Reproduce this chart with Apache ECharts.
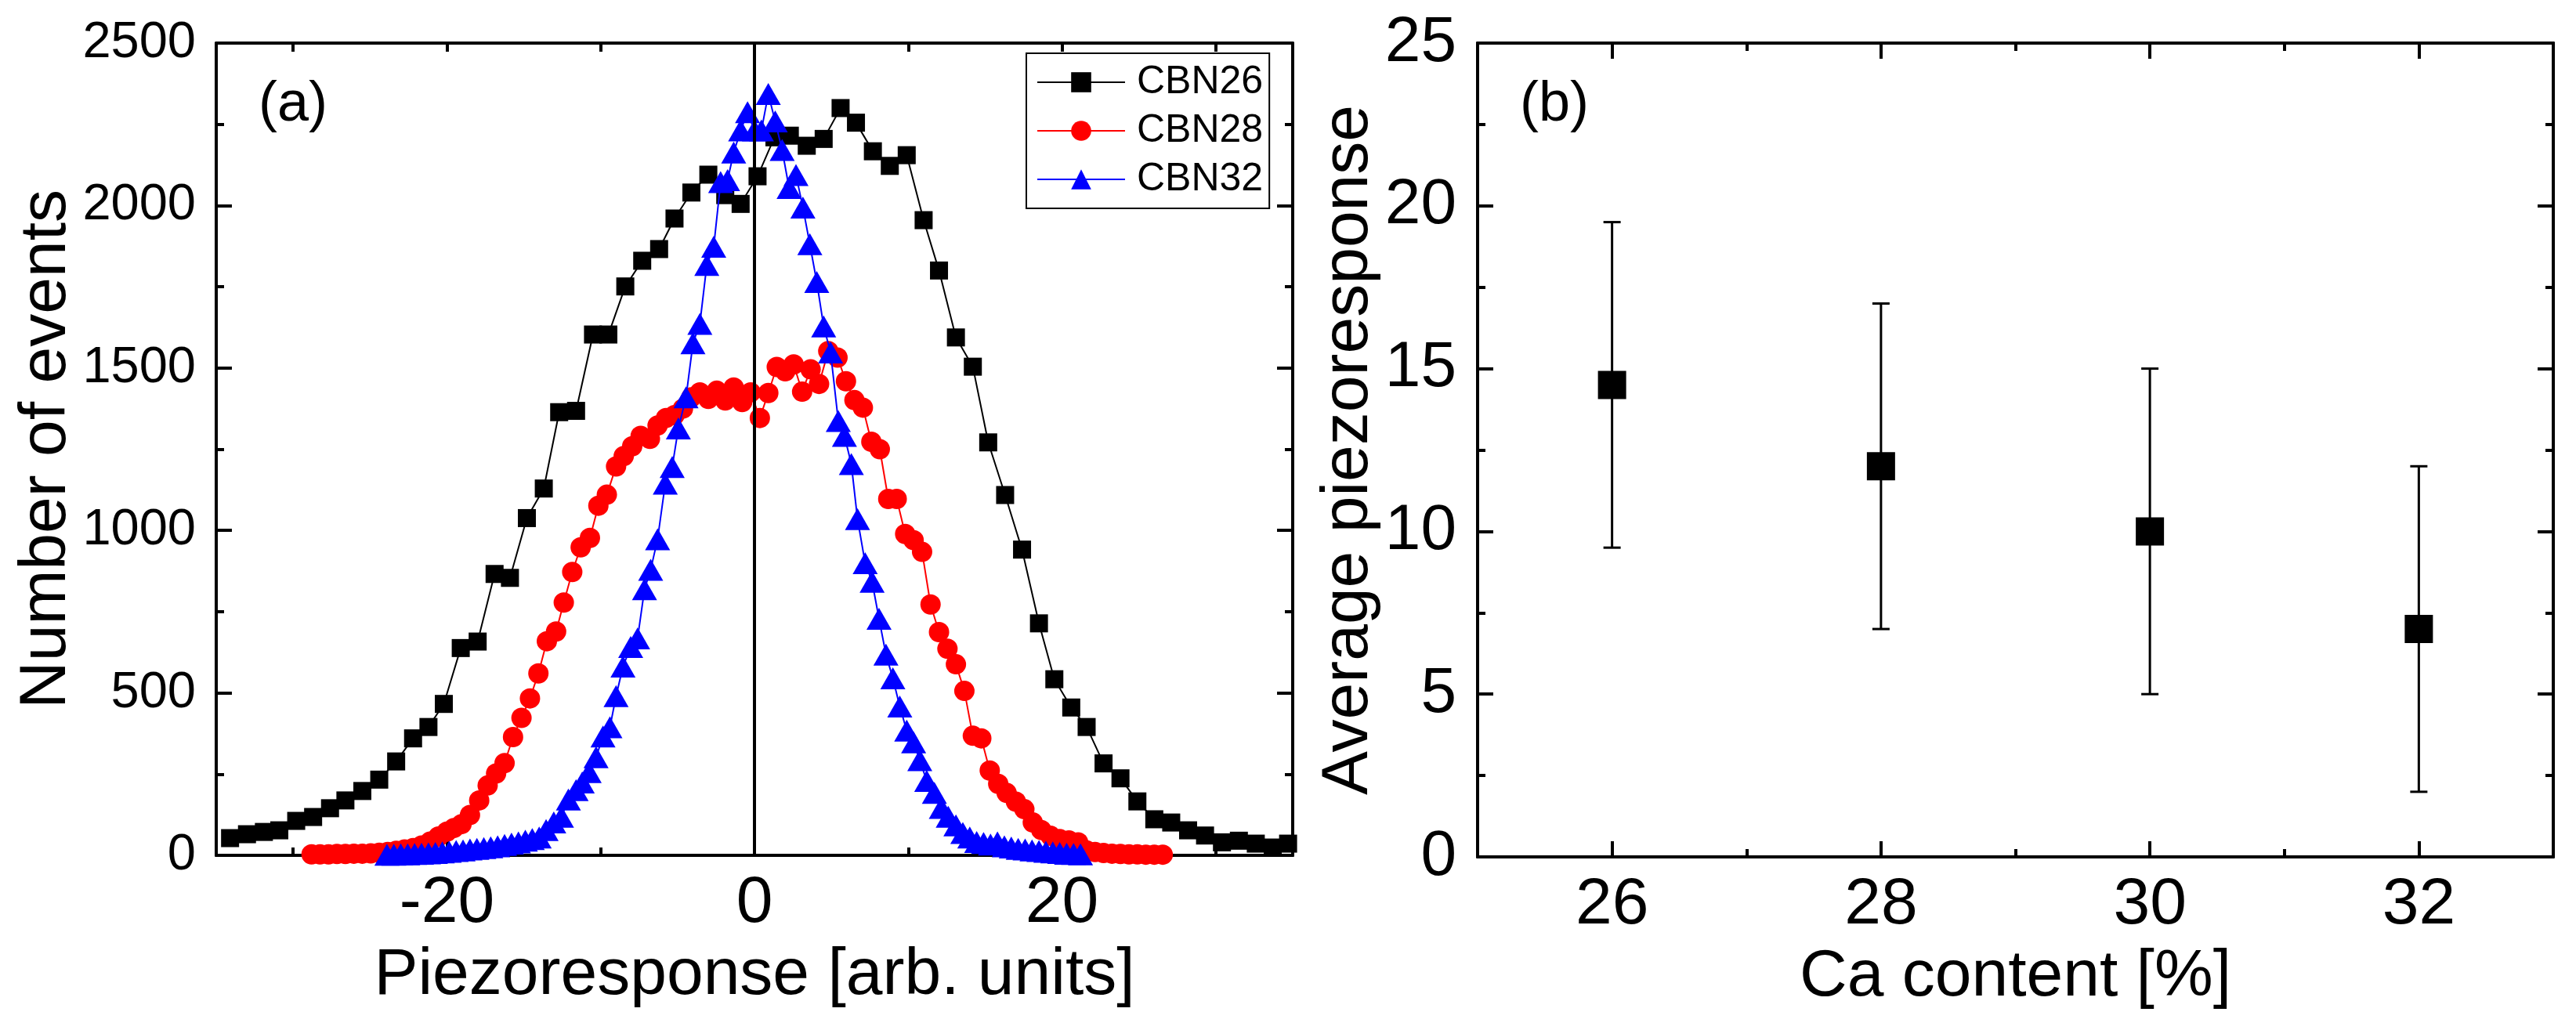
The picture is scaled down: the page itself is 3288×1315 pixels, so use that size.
<!DOCTYPE html>
<html>
<head>
<meta charset="utf-8">
<script src="https://cdn.jsdelivr.net/npm/echarts@6/dist/echarts.min.js"></script>
<style>
html, body { margin: 0; padding: 0; background: #fff; }
#chart { width: 3288px; height: 1315px; }
</style>
</head>
<body>
<div id="chart"></div>
<script>
// ---- panel (a): histograms of the piezoresponse ----
const cbn26X = [-34.1,-33.0,-31.9,-30.9,-29.8,-28.7,-27.6,-26.6,-25.5,-24.4,-23.3,-22.2,-21.2,-20.2,-19.1,-18.0,-16.9,-15.9,-14.8,-13.7,
                -12.7,-11.6,-10.5,-9.5,-8.4,-7.3,-6.2,-5.2,-4.1,-3.0,-1.9,-0.9,0.2,1.3,2.3,3.4,4.5,5.6,6.6,7.7,
                8.8,9.9,11.0,12.0,13.1,14.2,15.2,16.3,17.4,18.5,19.5,20.6,21.6,22.7,23.8,24.9,26.0,27.1,28.2,29.3,
                30.4,31.5,32.6,33.7,34.7];
const cbn26Y = [53,65,72,77,106,118,145,169,198,233,289,360,395,466,638,658,866,854,1038,1129,
                1364,1368,1603,1603,1751,1830,1866,1960,2040,2095,2032,2005,2090,2210,2215,2184,2205,2300,2255,2167,
                2122,2155,1955,1800,1594,1504,1271,1109,941,714,542,455,395,283,237,166,111,101,77,61,
                40,45,36,24,36];

const cbn28X = [-28.8,-28.25,-27.7,-27.15,-26.6,-26.05,-25.5,-24.95,-24.4,-23.85,-23.3,-22.75,-22.2,-21.65,-21.1,-20.55,-20.0,-19.55,-19.05,-18.5,
                -17.9,-17.35,-16.8,-16.25,-15.7,-15.15,-14.6,-14.05,-13.5,-12.9,-12.4,-11.85,-11.3,-10.7,-10.15,-9.6,-9.0,-8.5,-7.95,-7.4,
                -6.8,-6.3,-5.75,-5.2,-4.65,-4.1,-3.55,-3.0,-2.45,-1.9,-1.35,-0.8,-0.25,0.35,0.9,1.45,2.0,2.55,3.1,3.65,
                4.2,4.8,5.4,5.95,6.5,7.05,7.6,8.15,8.7,9.25,9.8,10.35,10.9,11.45,12.0,12.55,13.1,13.65,14.2,14.75,
                15.3,15.85,16.4,17.0,17.55,18.1,18.65,19.25,19.85,20.45,21.05,21.6,22.15,22.7,23.25,23.8,24.35,24.9,25.45,26.0,26.55];
const cbn28Y = [3,3,3,4,4,5,5,6,8,10,14,18,22,30,42,58,73,84,96,124,
                169,215,252,284,364,423,483,560,659,689,778,872,948,977,1076,1110,1197,1229,1259,1291,
                1282,1323,1346,1355,1375,1410,1425,1405,1430,1400,1440,1395,1425,1346,1423,1503,1490,1511,1427,1496,
                1451,1552,1532,1459,1401,1378,1273,1250,1097,1097,989,970,934,772,687,636,588,506,368,360,
                261,220,192,165,142,101,78,60,50,46,40,15,10,7,5,4,3,3,2,2,2];

const cbn32X = [-23.9,-23.45,-23.0,-22.55,-22.1,-21.65,-21.2,-20.75,-20.3,-19.85,-19.4,-18.95,-18.5,-18.05,-17.6,-17.15,-16.7,-16.25,-15.8,-15.35,
                -14.9,-14.45,-14.0,-13.55,-13.05,-12.55,-12.1,-11.6,-11.2,-10.75,-10.3,-9.85,-9.4,-9.0,-8.55,-8.05,-7.6,-7.15,-6.75,-6.3,
                -5.8,-5.35,-4.95,-4.45,-4.0,-3.55,-3.1,-2.65,-2.2,-1.75,-1.35,-0.9,-0.45,0.0,0.45,0.9,1.35,1.8,2.25,2.7,
                3.15,3.6,4.05,4.5,4.95,5.45,5.85,6.3,6.7,7.2,7.65,8.1,8.55,9.0,9.45,9.9,10.35,10.75,11.2,11.7,
                12.15,12.6,13.1,13.55,14.0,14.45,14.9,15.35,15.8,16.25,16.7,17.15,17.6,18.05,18.5,18.95,19.4,19.85,20.3,20.75,21.2];
const cbn32Y = [2,2,3,3,4,5,6,7,9,11,13,15,18,20,22,25,28,32,36,40,
                45,50,55,78,101,119,172,201,224,256,302,366,394,490,581,641,668,819,879,973,
                1144,1195,1314,1410,1576,1636,1817,1873,2072,2078,2163,2231,2287,2231,2231,2343,2259,2171,2054,2094,
                1994,1881,1765,1628,1548,1337,1291,1204,1035,899,842,728,618,545,458,384,348,293,229,192,
                146,119,92,69,55,41,38,33,40,28,24,20,18,15,13,11,9,7,5,4,3];

// ---- panel (b): average piezoresponse vs Ca content ----
const caContent = [26, 28, 30, 32];
const avgPiezo  = [14.5, 12, 10, 7];
const errLow    = [9.5, 7, 5, 2];
const errHigh   = [19.5, 17, 15, 12];

// tick labels
const ticksA = [-20, 0, 20];
const minorA = [-30, -10, 10, 30];
const topA   = [-30, -20, -10, 0, 10, 20, 30];
const ticksB = [26, 28, 30, 32];
const minorB = [27, 29, 31];

const FONT = 'Liberation Sans, Arial, sans-serif';
const AX   = { color: '#000', width: 4 };
const plain = v => String(v);

function pairs(xs, ys) { return xs.map((x, i) => [x, ys[i]]); }

// one x axis layer: visible line + labels, or just an extra set of ticks
function xLayer(grid, pos, min, max, ticks, len, withLabels, extra) {
    return Object.assign({
        type: 'value', gridIndex: grid, position: pos, min: min, max: max,
        axisLine: { show: true, onZero: false, lineStyle: AX },
        axisTick: { show: true, inside: true, length: len, customValues: ticks, lineStyle: AX },
        axisLabel: withLabels ? { show: true, customValues: ticks, formatter: plain, fontSize: 84, fontFamily: FONT, color: '#000', margin: 20 } : { show: false },
        splitLine: { show: false }
    }, extra || {});
}

function yLayer(grid, pos, max, step, labels, extra) {
    return Object.assign({
        type: 'value', gridIndex: grid, position: pos, min: 0, max: max, interval: step,
        axisLine: { show: true, onZero: false, lineStyle: AX },
        axisTick: { show: true, inside: true, length: 20, lineStyle: AX },
        minorTick: { show: true, splitNumber: 2, length: 10, lineStyle: AX },
        axisLabel: labels ? Object.assign({ show: true, formatter: plain, fontFamily: FONT, color: '#000' }, labels) : { show: false },
        splitLine: { show: false }
    }, extra || {});
}

const nameStyle = { fontSize: 84, fontFamily: FONT, color: '#000' };

const chart = echarts.init(document.getElementById('chart'));

chart.setOption({
    animation: false,
    backgroundColor: '#fff',
    textStyle: { fontFamily: FONT },
    grid: [
        { left: 276, top: 55, width: 1374, height: 1037 },
        { left: 1886, top: 55, width: 1373, height: 1039 }
    ],
    xAxis: [
        xLayer(0, 'bottom', -35, 35, ticksA, 20, true, {
            name: 'Piezoresponse [arb. units]', nameLocation: 'middle', nameGap: 112, nameTextStyle: nameStyle }),
        xLayer(0, 'bottom', -35, 35, minorA, 10, false),
        xLayer(0, 'top', -35, 35, topA, 11, false),
        xLayer(1, 'bottom', 25, 33, ticksB, 20, true, {
            name: 'Ca content [%]', nameLocation: 'middle', nameGap: 112, nameTextStyle: nameStyle }),
        xLayer(1, 'bottom', 25, 33, minorB, 10, false),
        xLayer(1, 'top', 25, 33, ticksB, 20, false),
        xLayer(1, 'top', 25, 33, minorB, 10, false)
    ],
    yAxis: [
        yLayer(0, 'left', 2500, 500, { fontSize: 65, margin: 26 }, {
            name: 'Number of events', nameLocation: 'middle', nameGap: 170, nameTextStyle: nameStyle }),
        yLayer(0, 'right', 2500, 500, null),
        yLayer(1, 'left', 25, 5, { fontSize: 82, margin: 27 }, {
            name: 'Average piezoresponse', nameLocation: 'middle', nameGap: 118, nameTextStyle: nameStyle }),
        yLayer(1, 'right', 25, 5, null)
    ],
    legend: {
        data: ['CBN26', 'CBN28', 'CBN32'],
        orient: 'vertical', left: 1310, top: 68,
        padding: [12, 8, 12, 13],
        itemWidth: 112, itemHeight: 32, itemGap: 12,
        borderColor: '#000', borderWidth: 2, borderRadius: 0,
        selectedMode: false,
        textStyle: { fontSize: 50, fontFamily: FONT, color: '#000', padding: [0, 0, 0, 10] }
    },
    graphic: [
        { type: 'text', left: 330, top: 98, style: { text: '(a)', font: '72px ' + FONT, fill: '#000' } },
        { type: 'text', left: 1940, top: 98, style: { text: '(b)', font: '72px ' + FONT, fill: '#000' } }
    ],
    series: [
        {
            name: 'CBN26', type: 'line', xAxisIndex: 0, yAxisIndex: 0,
            data: pairs(cbn26X, cbn26Y),
            symbol: 'rect', symbolSize: 23, color: '#000',
            lineStyle: { width: 2, color: '#000' }, itemStyle: { color: '#000' },
            markLine: {
                silent: true, symbol: ['none', 'none'], label: { show: false },
                lineStyle: { color: '#000', width: 4, type: 'solid' },
                data: [{ xAxis: 0 }]
            },
            z: 2
        },
        {
            name: 'CBN28', type: 'line', xAxisIndex: 0, yAxisIndex: 0,
            data: pairs(cbn28X, cbn28Y),
            symbol: 'circle', symbolSize: 26, color: '#ff0000',
            lineStyle: { width: 2, color: '#ff0000' }, itemStyle: { color: '#ff0000' },
            z: 3
        },
        {
            name: 'CBN32', type: 'line', xAxisIndex: 0, yAxisIndex: 0,
            data: pairs(cbn32X, cbn32Y),
            symbol: 'triangle', symbolSize: [32, 28], color: '#0000ff',
            lineStyle: { width: 2, color: '#0000ff' }, itemStyle: { color: '#0000ff' },
            z: 4
        },
        {
            type: 'custom', xAxisIndex: 3, yAxisIndex: 2,
            data: caContent.map((c, i) => [c, errLow[i], errHigh[i]]),
            encode: { x: 0, y: [1, 2] },
            renderItem: function (params, api) {
                const top = api.coord([api.value(0), api.value(2)]);
                const bot = api.coord([api.value(0), api.value(1)]);
                const w = 11;
                const st = { stroke: '#000', lineWidth: 3 };
                return {
                    type: 'group',
                    children: [
                        { type: 'line', shape: { x1: top[0], y1: top[1], x2: bot[0], y2: bot[1] }, style: st },
                        { type: 'line', shape: { x1: top[0] - w, y1: top[1], x2: top[0] + w, y2: top[1] }, style: st },
                        { type: 'line', shape: { x1: bot[0] - w, y1: bot[1], x2: bot[0] + w, y2: bot[1] }, style: st }
                    ]
                };
            },
            z: 2
        },
        {
            type: 'scatter', xAxisIndex: 3, yAxisIndex: 2,
            data: pairs(caContent, avgPiezo),
            symbol: 'rect', symbolSize: 36,
            itemStyle: { color: '#000', opacity: 1 },
            z: 3
        }
    ]
});
</script>
</body>
</html>
